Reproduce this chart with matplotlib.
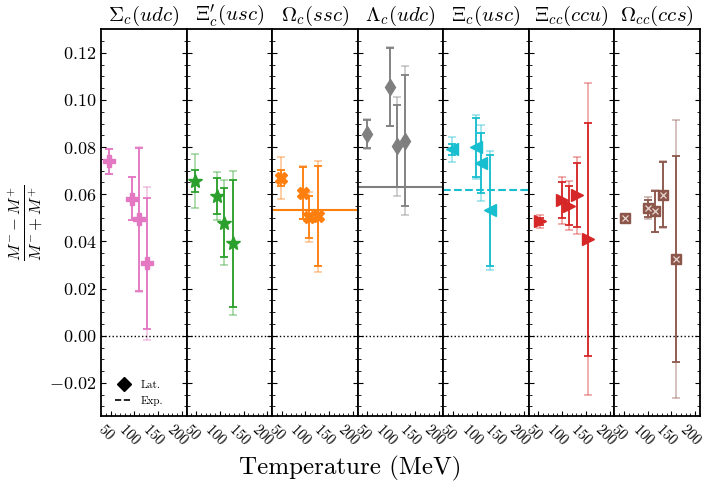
import numpy as np
import matplotlib
matplotlib.use('Agg')
import matplotlib.pyplot as plt
import matplotlib.transforms as mtransforms
from matplotlib.lines import Line2D

plt.rcParams['font.family'] = 'serif'
plt.rcParams['font.serif'] = ['cmr10']
plt.rcParams['mathtext.fontset'] = 'cm'
plt.rcParams['axes.formatter.use_mathtext'] = True

# baryon panels
names = [r'$\Sigma_c(udc)$', r"$\Xi_c'(usc)$", r'$\Omega_c(ssc)$', r'$\Lambda_c(udc)$',
         r'$\Xi_c(usc)$', r'$\Xi_{cc}(ccu)$', r'$\Omega_{cc}(ccs)$']
colors = ['#e377c2', '#2ca02c', '#ff7f0e', '#7f7f7f', '#17becf', '#d62728', '#8c564b']
markers = ['P', '*', 'X', 'd', '<', '>', 's']

temps = [
    [47, 94, 109, 126],
    [47, 94, 109, 127],
    [48, 95, 108, 126],
    [50, 98, 112, 129],
    [49, 98, 110, 128],
    [53, 100, 114, 131, 155],
    [53, 101, 116, 133, 159],
]
vals = [
    [0.0739, 0.0582, 0.0493, 0.0307],
    [0.0655, 0.0593, 0.0480, 0.0392],
    [0.0670, 0.0606, 0.0504, 0.0507],
    [0.0856, 0.1056, 0.0804, 0.0828],
    [0.0790, 0.0800, 0.0732, 0.0532],
    [0.0486, 0.0575, 0.0551, 0.0596, 0.0410],
    [0.0500, 0.0540, 0.0528, 0.0599, 0.0324],
]
err_stat = [
    [0.0053, 0.0090, 0.0303, 0.0278],
    [0.0046, 0.0078, 0.0148, 0.0270],
    [0.0033, 0.0110, 0.0088, 0.0213],
    [0.0060, 0.0165, 0.0174, 0.0277],
    [0.0023, 0.0125, 0.0127, 0.0236],
    [0.0015, 0.0075, 0.0083, 0.0136, 0.0494],
    [0.0010, 0.0035, 0.0087, 0.0137, 0.0437],
]
err_tot = [
    [0.0055, 0.0092, 0.0306, 0.0324],
    [0.0114, 0.0101, 0.0180, 0.0306],
    [0.0088, 0.0112, 0.0107, 0.0236],
    [0.0062, 0.0167, 0.0210, 0.0317],
    [0.0052, 0.0135, 0.0160, 0.0252],
    [0.0028, 0.0100, 0.0104, 0.0164, 0.0660],
    [0.0015, 0.0047, 0.0089, 0.0140, 0.0589],
]
# experimental values (None = not measured)
exp_vals = [None, None, 0.0535, 0.0631, 0.0617, None, None]
exp_styles = [None, None, '-', '-', '--', None, None]

fig, axes = plt.subplots(1, 7, figsize=(7.07, 4.87), dpi=100, sharey=True)
fig.subplots_adjust(left=0.143, right=0.990, top=0.940, bottom=0.146, wspace=0)

shift = mtransforms.ScaledTranslation(-3 / 72, 0, fig.dpi_scale_trans)

for i, ax in enumerate(axes):
    c = colors[i]
    ms = 8
    if markers[i] == '*':
        ms = 10
    if markers[i] == 's':
        ms = 7
    ax.errorbar(temps[i], vals[i], yerr=err_tot[i], fmt='none', ecolor=c, alpha=0.4,
                capsize=3, elinewidth=1.3, capthick=1.3)
    ax.errorbar(temps[i], vals[i], yerr=err_stat[i], marker=markers[i], ls='none',
                color=c, ms=ms, capsize=3, elinewidth=1.3, capthick=1.3)
    if markers[i] == 's':
        # pattern inside the squares
        ax.plot(temps[i], vals[i], ls='none', marker='x', ms=4.5, mew=0.9,
                color='#e8d6d0', zorder=5)
    if exp_vals[i] is not None:
        ax.axhline(exp_vals[i], color=c, ls=exp_styles[i], lw=1.5)
    ax.axhline(0, color='k', ls=':', lw=1)
    ax.set_title(names[i], fontsize=15)
    ax.set_xlim(30, 210)
    ax.set_xticks([50, 100, 150, 200])
    ax.set_xticks(np.arange(30, 211, 10), minor=True)
    ax.set_ylim(-0.034, 0.13)
    ax.set_yticks([-0.02, 0.0, 0.02, 0.04, 0.06, 0.08, 0.10, 0.12])
    ax.set_yticks(np.arange(-0.03, 0.13, 0.005), minor=True)
    ax.tick_params(which='both', direction='in', right=True)
    ax.tick_params(axis='x', labelrotation=-45, labelsize=10.5)
    ax.tick_params(axis='y', labelsize=13)
    for lab in ax.get_xticklabels():
        lab.set_transform(lab.get_transform() + shift)
    for s in ax.spines.values():
        s.set_linewidth(1.3)

axes[0].set_ylabel(r'$\frac{M^{-} - M^{+}}{M^{-} + M^{+}}$', fontsize=17, labelpad=2)
fig.text(0.495, 0.025, 'Temperature (MeV)', ha='center', fontsize=18)

handles = [Line2D([], [], color='k', marker='D', ls='none', ms=7),
           Line2D([], [], color='k', ls='--', lw=1.2)]
axes[0].legend(handles, ['Lat.', 'Exp.'], loc='lower left', frameon=False, fontsize=8,
               handlelength=1.5, bbox_to_anchor=(0.05, 0.0))

fig.savefig('out.png', dpi=100)
